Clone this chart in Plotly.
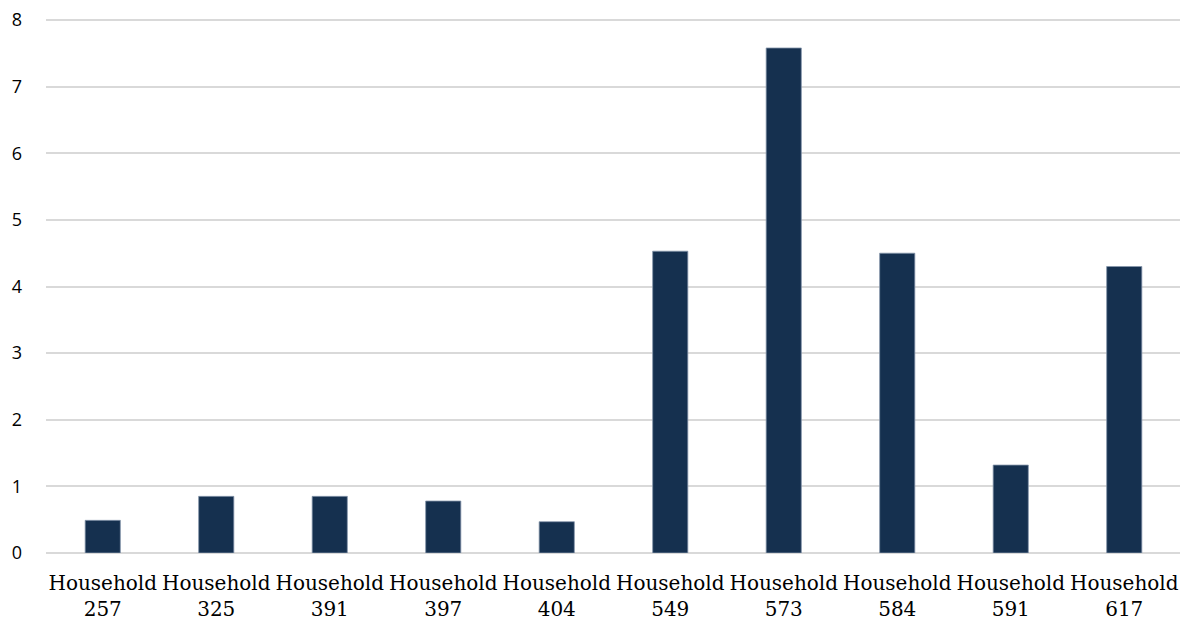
import plotly.graph_objects as go

categories = ["Household<br>257", "Household<br>325", "Household<br>391", "Household<br>397",
              "Household<br>404", "Household<br>549", "Household<br>573", "Household<br>584",
              "Household<br>591", "Household<br>617"]
values = [0.49, 0.85, 0.85, 0.78, 0.47, 4.53, 7.58, 4.50, 1.32, 4.30]
y_ticks = [0, 1, 2, 3, 4, 5, 6, 7, 8]

fig = go.Figure(go.Bar(
    x=categories, y=values,
    marker=dict(color="#15304f", line=dict(color="#8596ab", width=0.8)),
    width=0.31,
))

fig.update_layout(
    width=1188, height=622,
    margin=dict(l=38, r=15, t=10, b=77),
    plot_bgcolor="white", paper_bgcolor="white",
    showlegend=False,
)
fig.update_yaxes(
    range=[0, 8.03], tickvals=y_ticks, automargin=False,
    showgrid=True, gridcolor="#d9d9d9", gridwidth=1.5,
    zeroline=True, zerolinecolor="#d9d9d9", zerolinewidth=1.5,
    tickfont=dict(family="Open Sans", size=18, color="#000000"),
    ticklabelstandoff=23, ticklabeloverflow="allow",
)
fig.update_xaxes(
    showgrid=False, showline=False, automargin=False,
    ticks="outside", ticklen=12, tickcolor="rgba(0,0,0,0)",
    tickfont=dict(family="DejaVu Serif", size=20, color="#000000"),
)

fig.write_html("out.html")
